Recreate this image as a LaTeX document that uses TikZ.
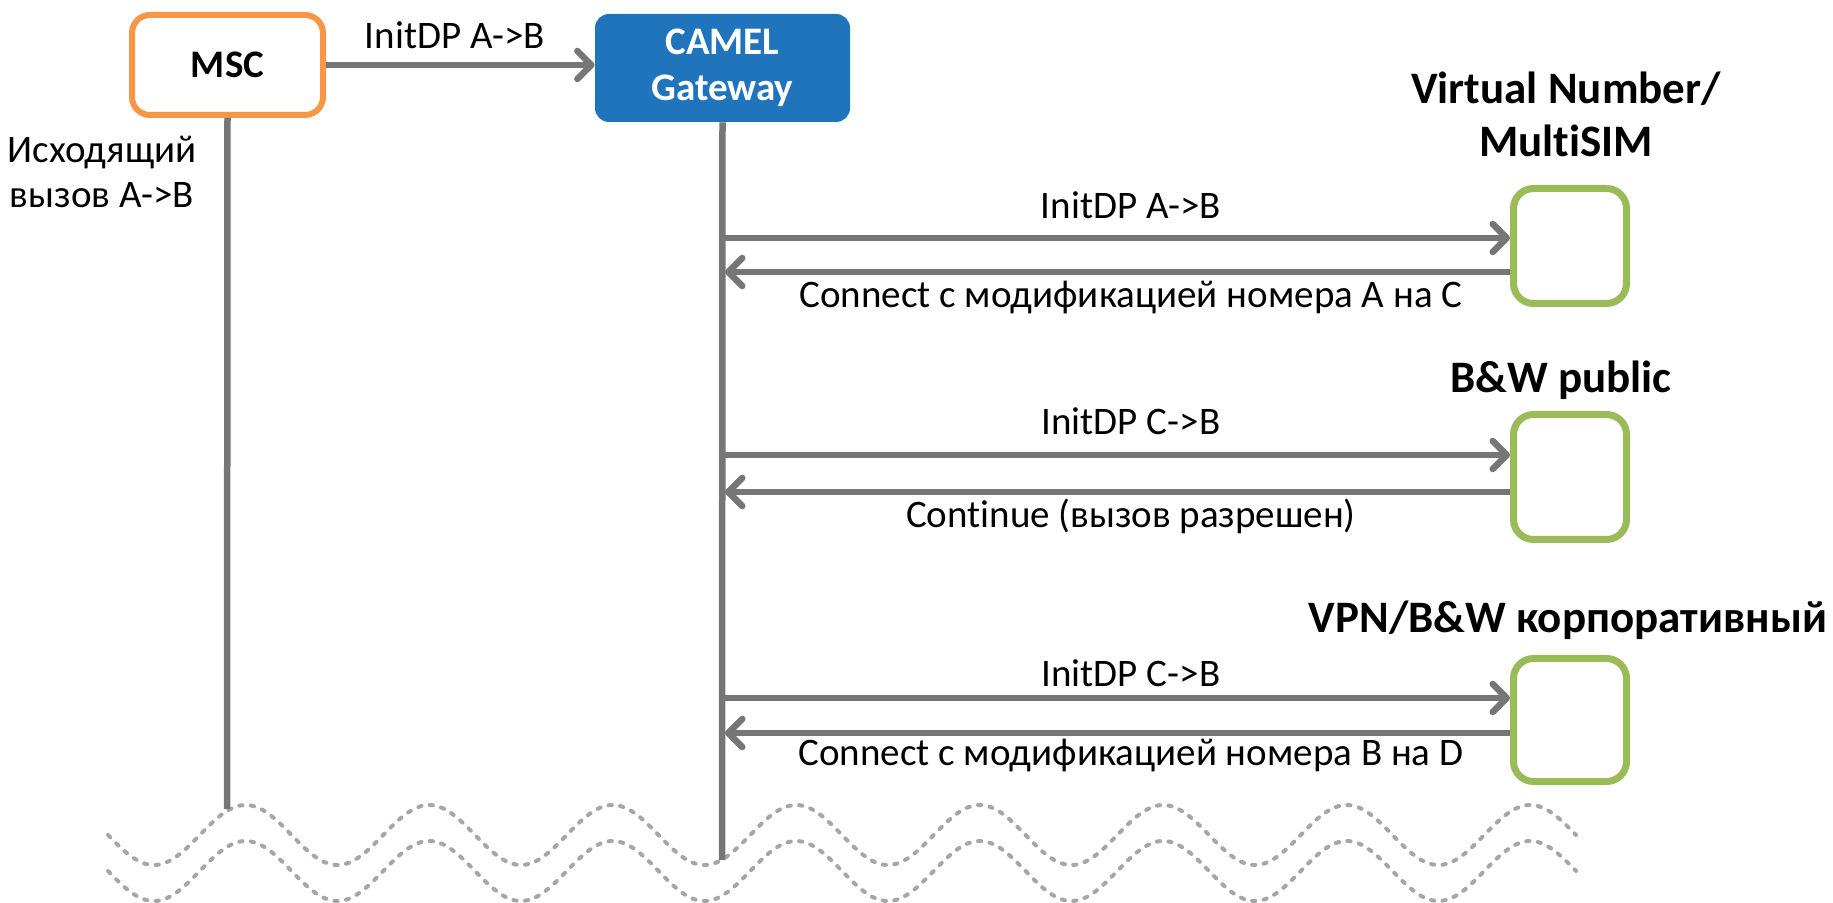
\documentclass[tikz,border=0pt]{standalone}
\usepackage{fontspec}
\setmainfont{Carlito}[Ligatures={NoCommon}]
\usetikzlibrary{arrows.meta}
\definecolor{msco}{HTML}{F79646}
\definecolor{camelb}{HTML}{1F74BC}
\definecolor{grn}{HTML}{9BBB59}
\definecolor{arrg}{HTML}{767676}
\definecolor{wavg}{HTML}{A6A6A6}
\begin{document}
\begin{tikzpicture}[x=0.5pt,y=-0.5pt,
  msg/.style={draw=arrg, line width=3.25pt, -{Straight Barb[length=7pt,width=14pt,round]}},
  life/.style={draw=arrg, line width=3.25pt},
  lbl/.style={inner sep=0pt, font=\fontsize{19.5}{22.5}\selectfont, align=center},
  head/.style={inner sep=0pt, font=\fontsize{22.5}{26.5}\selectfont\bfseries, align=center},
  greenbox/.style={draw=grn, line width=3.5pt, rounded corners=10pt, minimum width=56.5pt, inner sep=0pt, fill=white},
  wave/.style={draw=wavg, line width=2pt, line cap=round, dash pattern=on 1.6pt off 4.2pt}
]
\useasboundingbox (0,0) rectangle (1833,903);

% waves
\draw[wave] plot[domain=108:1576, samples=320, smooth] (\x, {835+30*sin(((\x-108)/183.5)*360)});
\draw[wave] plot[domain=108:1576, samples=320, smooth] (\x, {871+30*sin(((\x-108)/183.5)*360)});

% participants
\node[draw=msco, line width=3pt, rounded corners=9pt, fill=white, minimum width=95.5pt, minimum height=50pt, inner sep=0pt,
      font=\fontsize{19.5}{22.5}\selectfont\bfseries] (msc) at (227.5,65) {MSC};
\node[fill=camelb, rounded corners=7pt, minimum width=127.5pt, minimum height=54pt, inner sep=0pt, text=white,
      font=\fontsize{19.5}{23}\selectfont\bfseries, align=center] (cam) at (722.5,68) {CAMEL\\Gateway};

\node[greenbox, minimum height=57.5pt] (vn) at (1570,246) {};
\node[greenbox, minimum height=62.5pt] (bw) at (1570,477) {};
\node[greenbox, minimum height=61.5pt] (vpn) at (1570,720) {};

\node[head] (hvn) at (1566,114) {Virtual Number/\\MultiSIM};
\node[head] (hbw) at (1561,380) {B\&W public};
\node[head] (hvpn) at (1568,620) {VPN/B\&W корпоративный};

% lifelines
\coordinate (mscend) at (227,809);
\coordinate (camend) at (722,860);
\draw[life] (msc.south) -- (mscend);
\draw[life] (cam.south) -- (camend);

\node[lbl] (out) at (102,172) {Исходящий\\вызов A->B};

% MSC -> CAMEL
\draw[msg] (msc.east |- 0,65) -- (cam.west |- 0,65);
\node[lbl] (l0) at (455,35) {InitDP A->B};

% lifeline points
\coordinate (o1) at (722,238);
\coordinate (i1) at (725,272);
\coordinate (o2) at (722,455);
\coordinate (i2) at (725,492);
\coordinate (o3) at (722,698);
\coordinate (i3) at (725,733);

\draw[msg] (o1) -- (o1 -| vn.west);
\draw[msg] (i1 -| vn.west) -- (i1);
\draw[msg] (o2) -- (o2 -| bw.west);
\draw[msg] (i2 -| bw.west) -- (i2);
\draw[msg] (o3) -- (o3 -| vpn.west);
\draw[msg] (i3 -| vpn.west) -- (i3);

\node[lbl] (l1) at (1131,205) {InitDP A->B};
\node[lbl] (l2) at (1131,298) {Connect с модификацией номера A на C};
\node[lbl] (l3) at (1131,421) {InitDP C->B};
\node[lbl] (l4) at (1131,516) {Continue (вызов разрешен)};
\node[lbl] (l5) at (1131,673) {InitDP C->B};
\node[lbl] (l6) at (1131,756) {Connect с модификацией номера B на D};
\end{tikzpicture}
\end{document}
